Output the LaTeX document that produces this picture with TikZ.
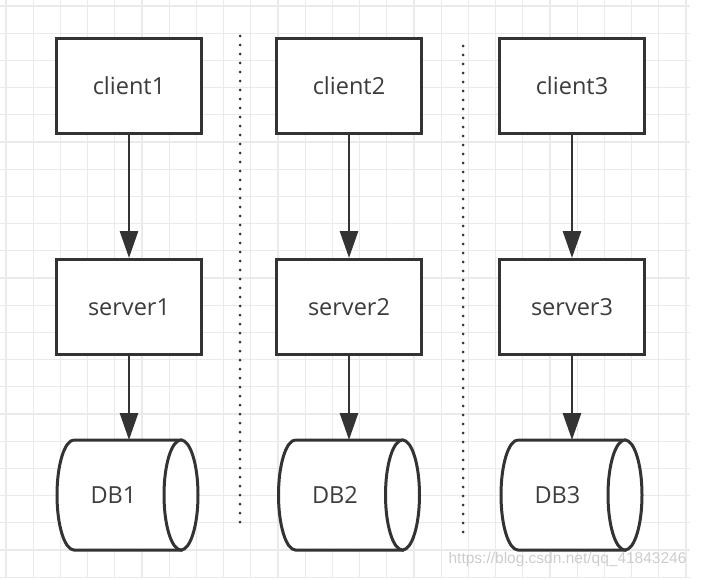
\documentclass[tikz,border=0pt]{standalone}
\usepackage{fontspec}
\setmainfont{Open Sans}
\newfontfamily\wmfont{Liberation Sans}
\usepackage{tikz}
\usetikzlibrary{arrows.meta, calc, positioning}
\definecolor{gridgray}{RGB}{234, 234, 234}
\definecolor{boxgray}{RGB}{51, 51, 51}
\definecolor{textgray}{RGB}{60, 60, 60}
\definecolor{markgray}{RGB}{205, 205, 205}

\begin{document}
\begin{tikzpicture}[x=1pt, y=-1pt, line join=miter, >={Triangle[length=27pt,width=18pt]},
    box/.style={draw=boxgray, fill=white, line width=3pt, minimum width=145pt, minimum height=95pt, font=\fontsize{23.5}{26}\selectfont, text=textgray},
    dbspot/.style={minimum width=141pt, minimum height=110pt, inner sep=0pt, outer sep=0pt},
    dbline/.style={draw=boxgray, fill=white, line width=3pt},
    dbtext/.style={font=\fontsize{23.5}{26}\selectfont, text=textgray},
    flow/.style={->, draw=boxgray, line width=2.8pt},
    sep/.style={boxgray, line width=3pt, line cap=round, dash pattern=on 0pt off 9pt}]
    \useasboundingbox (0,0) rectangle (701,578);
    \fill[white] (0,0) rectangle (701,578);

    % background grid
    \foreach \i in {0,...,25}
        \draw[gridgray, line width=1.2pt] ({6+27.2*\i},0) -- ({6+27.2*\i},578);
    \foreach \j in {0,...,21}
        \draw[gridgray, line width=1.2pt] (0,{6+27.2*\j}) -- (690,{6+27.2*\j});

    % separators
    \coordinate (S1a) at (240,36);
    \coordinate (S1b) at (240,525);
    \coordinate (S2a) at (463,46);
    \coordinate (S2b) at (463,537);
    \draw[sep] (S1a) -- (S1b);
    \draw[sep] (S2a) -- (S2b);

    % clients and servers
    \node[box] (client1) at (129,86) {client1};
    \node[box] (client2) at (349,86) {client2};
    \node[box] (client3) at (572,86) {client3};

    \node[box] (server1) at (129,307) {server1};
    \node[box] (server2) at (349,307) {server2};
    \node[box] (server3) at (572,307) {server3};

    % databases (horizontal cylinders)
    \foreach \n/\x in {1/127.5, 2/349, 3/571.5} {
        \node[dbspot] (db\n) at (\x,495) {};
        \draw[dbline] ($(db\n.north west)+(17,0)$) -- ($(db\n.north east)+(-17,0)$)
            -- ($(db\n.south east)+(-17,0)$) -- ($(db\n.south west)+(17,0)$)
            arc[start angle=270, end angle=90, x radius=17pt, y radius=55pt];
        \draw[dbline] ($(db\n.east)+(-17,0)$) ellipse [x radius=17pt, y radius=55pt];
        \node[dbtext] (db\n text) at ($(db\n.center)+(-14,0)$) {DB\n};
    }

    \draw[flow] (client1.south) -- (server1.north);
    \draw[flow] (client2.south) -- (server2.north);
    \draw[flow] (client3.south) -- (server3.north);
    \draw[flow] (server1.south) -- (server1.south |- db1.north);
    \draw[flow] (server2.south) -- (server2.south |- db2.north);
    \draw[flow] (server3.south) -- (server3.south |- db3.north);

    \node[markgray, font=\wmfont\fontsize{15.5}{17}\selectfont, anchor=base east] (mark) at (690,563) {https://blog.csdn.net/qq\_41843246};
\end{tikzpicture}
\end{document}
